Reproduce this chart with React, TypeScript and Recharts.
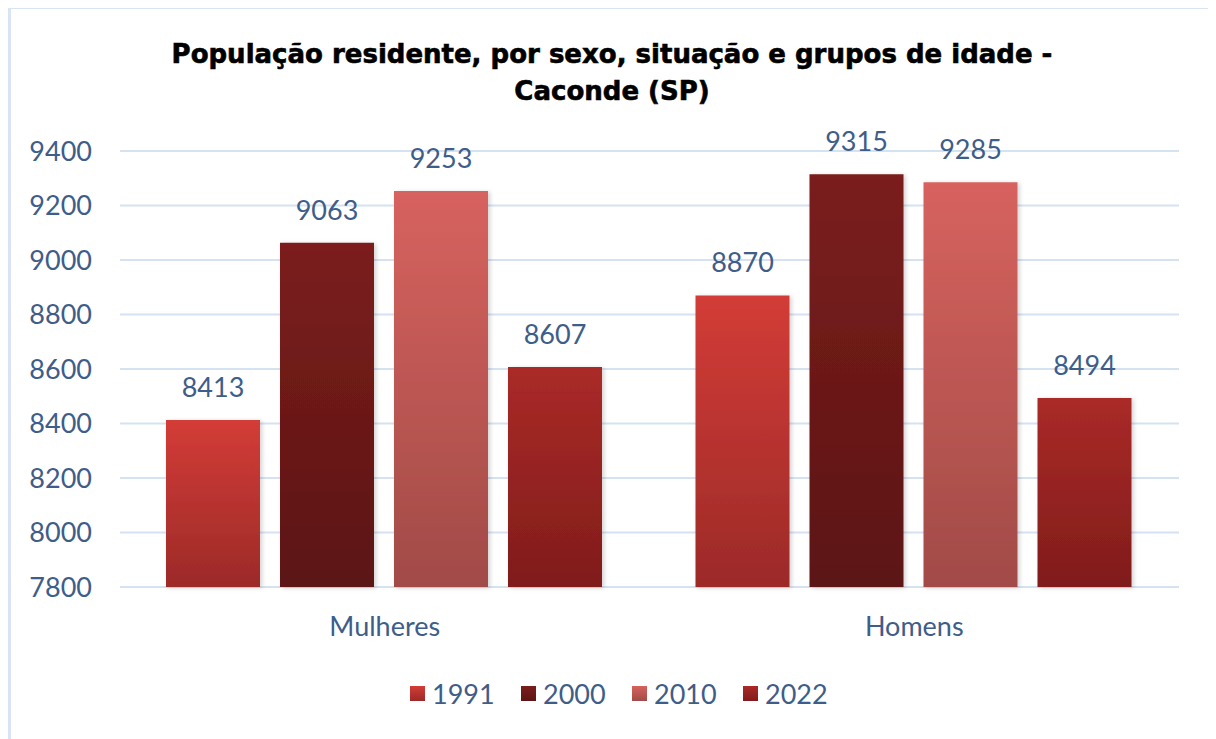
import React from 'react';
import { BarChart, Bar, XAxis, YAxis, CartesianGrid, Legend, LabelList } from 'recharts';

const categorias = ['Mulheres', 'Homens'];
const anos = ['1991', '2000', '2010', '2022'];
const valores1991 = [8413, 8870];
const valores2000 = [9063, 9315];
const valores2010 = [9253, 9285];
const valores2022 = [8607, 8494];
const ticksY = [7800, 8000, 8200, 8400, 8600, 8800, 9000, 9200, 9400];

const data = categorias.map((nome, i) => ({
  nome,
  '1991': valores1991[i],
  '2000': valores2000[i],
  '2010': valores2010[i],
  '2022': valores2022[i],
}));

// cores dos gradientes (topo, base)
const gradientes: Record<string, [string, string]> = {
  '1991': ['#D33C37', '#9C2A28'],
  '2000': ['#7B1D1C', '#5C1515'],
  '2010': ['#D7625E', '#A14B48'],
  '2022': ['#AA2A27', '#801C1B'],
};

const azul = '#3E5D89';
const fonte = 'Lato, "Open Sans", sans-serif';

function LegendaCustom() {
  return (
    <div style={{ display: 'flex', height: 30, alignItems: 'center', paddingLeft: 402, fontFamily: fonte }}>
      {anos.map((ano) => (
        <div key={ano} style={{ display: 'flex', alignItems: 'center', width: 111 }}>
          <div
            style={{
              width: 15,
              height: 15,
              background: `linear-gradient(${gradientes[ano][0]}, ${gradientes[ano][1]})`,
              marginRight: 7,
            }}
          />
          <span style={{ fontSize: 27, color: azul }}>{ano}</span>
        </div>
      ))}
    </div>
  );
}

export default function App() {
  return (
    <div style={{ position: 'relative', width: 1208, height: 740 }}>
      <div
        style={{
          position: 'absolute',
          left: 0,
          top: -2,
          width: 1208,
          height: 760,
          border: '3px solid #D8E4F3',
          boxSizing: 'border-box',
        }}
      />
      <div
        style={{
          position: 'absolute',
          top: 28,
          left: 0,
          width: 1208,
          textAlign: 'center',
          fontFamily: '"DejaVu Sans", sans-serif',
          fontWeight: 'bold',
          fontSize: 26,
          lineHeight: '37px',
          color: '#000',
          WebkitTextStroke: '0.6px #000',
        }}
      >
        População residente, por sexo, situação e grupos de idade -<br />Caconde (SP)
      </div>
      <BarChart
        width={1208}
        height={740}
        data={data}
        margin={{ top: 143, right: 37, bottom: 40, left: 0 }}
        barCategoryGap={46}
        barGap={20}
      >
        <defs>
          {anos.map((ano) => (
            <linearGradient key={ano} id={`g${ano}`} x1="0" y1="0" x2="0" y2="1">
              <stop offset="0%" stopColor={gradientes[ano][0]} />
              <stop offset="100%" stopColor={gradientes[ano][1]} />
            </linearGradient>
          ))}
          <filter id="sombra" x="-10%" y="-10%" width="130%" height="130%">
            <feDropShadow dx="2" dy="1" stdDeviation="2" floodColor="#000" floodOpacity="0.18" />
          </filter>
        </defs>
        <CartesianGrid vertical={false} stroke="#D5E2F2" strokeWidth={2} />
        <XAxis
          dataKey="nome"
          axisLine={false}
          tickLine={false}
          tickSize={0}
          tickMargin={30}
          height={91}
          tick={{ fill: azul, fontSize: 27, fontFamily: fonte }}
        />
        <YAxis
          domain={[7800, 9400]}
          ticks={ticksY}
          axisLine={false}
          tickLine={false}
          tickSize={0}
          tickMargin={28}
          width={112}
          tick={{ fill: azul, fontSize: 27, fontFamily: fonte }}
        />
        <Legend verticalAlign="bottom" content={<LegendaCustom />} />
        {anos.map((ano) => (
          <Bar key={ano} dataKey={ano} fill={`url(#g${ano})`} filter="url(#sombra)" isAnimationActive={false}>
            <LabelList
              dataKey={ano}
              position="top"
              offset={23}
              style={{ fill: azul, fontSize: 27, fontFamily: fonte }}
            />
          </Bar>
        ))}
      </BarChart>
    </div>
  );
}
